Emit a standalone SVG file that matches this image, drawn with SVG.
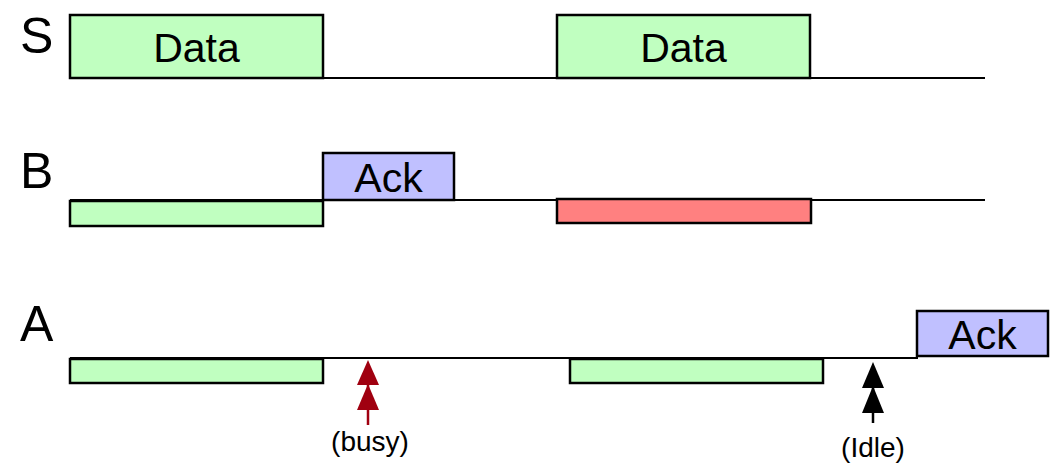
<svg xmlns="http://www.w3.org/2000/svg" width="1060" height="466" viewBox="0 0 1060 466">
  <style>
    .lane { stroke: #000; stroke-width: 2.2; fill: none; }
    .box { stroke: #000; stroke-width: 2.5; }
    .data { fill: #c0ffc0; }
    .ack { fill: #c0c0ff; }
    .busy { fill: #ff8080; }
    .row { font-family: "Liberation Sans", Arial, sans-serif; font-size: 50px; fill: #000; }
    .lbl { font-family: "Liberation Sans", Arial, sans-serif; font-size: 41px; fill: #000; text-anchor: middle; }
    .note { font-family: "Liberation Sans", Arial, sans-serif; font-size: 28px; fill: #000; text-anchor: middle; }
  </style>

  <!-- timelines -->
  <g id="connectors">
    <line class="lane" x1="70" y1="78" x2="985" y2="78"/>
    <line class="lane" x1="70" y1="200" x2="985" y2="200"/>
    <line class="lane" x1="70" y1="358" x2="918" y2="358"/>
  </g>

  <!-- row labels -->
  <g id="labels">
    <text class="row" x="20" y="53">S</text>
    <text class="row" x="20" y="188">B</text>
    <text class="row" x="20" y="341">A</text>
  </g>

  <!-- station S -->
  <g id="s-data-1">
    <rect class="box data" x="70" y="15" width="253" height="63"/>
    <text class="lbl" x="196.5" y="62">Data</text>
  </g>
  <g id="s-data-2">
    <rect class="box data" x="557" y="15" width="253" height="63"/>
    <text class="lbl" x="683.5" y="62">Data</text>
  </g>

  <!-- station B -->
  <g id="b-rx-1">
    <rect class="box data" x="70" y="201" width="253" height="25"/>
  </g>
  <g id="b-ack">
    <rect class="box ack" x="323" y="153" width="131" height="47"/>
    <text class="lbl" x="388.5" y="192">Ack</text>
  </g>
  <g id="b-collision">
    <rect class="box busy" x="557" y="199" width="254" height="24"/>
  </g>

  <!-- station A -->
  <g id="a-rx-1">
    <rect class="box data" x="70" y="359" width="253" height="24"/>
  </g>
  <g id="a-rx-2">
    <rect class="box data" x="570" y="359" width="253" height="24"/>
  </g>
  <g id="a-ack">
    <rect class="box ack" x="917" y="311" width="131" height="45"/>
    <text class="lbl" x="982.5" y="349">Ack</text>
  </g>

  <!-- carrier sense markers -->
  <g id="busy-marker">
    <line x1="368" y1="370" x2="368" y2="425" stroke="#a00010" stroke-width="2.5"/>
    <polygon points="368,360 379,385 357,385" fill="#a00010"/>
    <polygon points="368,384 379,410 357,410" fill="#a00010"/>
    <text class="note" x="370" y="451">(busy)</text>
  </g>
  <g id="idle-marker">
    <line x1="873" y1="372" x2="873" y2="423" stroke="#000" stroke-width="2.5"/>
    <polygon points="873,362 884,388 862,388" fill="#000"/>
    <polygon points="873,386 884,413 862,413" fill="#000"/>
    <text class="note" x="873" y="457">(Idle)</text>
  </g>
</svg>
